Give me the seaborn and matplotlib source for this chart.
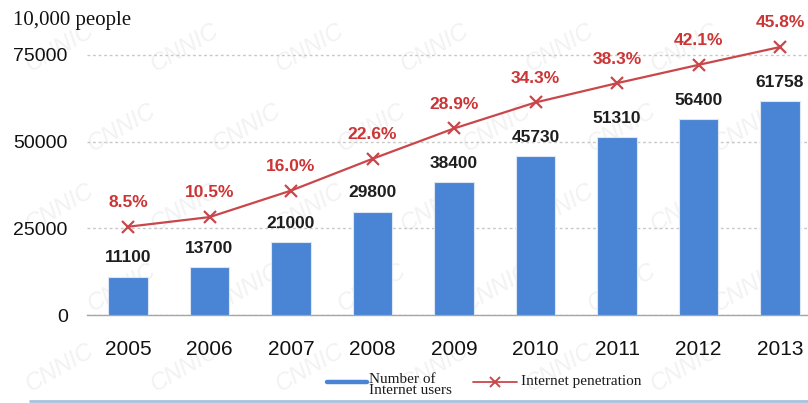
import numpy as np
import pandas as pd
import matplotlib
matplotlib.use("Agg")
import matplotlib.pyplot as plt
from matplotlib.lines import Line2D
import seaborn as sns

# Internet users in China (unit: 10,000 people) and internet penetration rate
years = ["2005", "2006", "2007", "2008", "2009", "2010", "2011", "2012", "2013"]
users = [11100, 13700, 21000, 29800, 38400, 45730, 51310, 56400, 61758]
penetration = [8.5, 10.5, 16.0, 22.6, 28.9, 34.3, 38.3, 42.1, 45.8]
y_ticks = [0, 25000, 50000, 75000]

BAR_BLUE = "#4a84d4"
LINE_RED = "#c9474a"
TEXT_RED = "#cc3535"
AXIS_GREY = "#a6a6a6"
SERIF = ["Liberation Serif", "DejaVu Serif"]

sns.set_theme(style="white")
plt.rcParams["font.family"] = ["Liberation Sans", "DejaVu Sans"]

W, H = 808, 403
fig = plt.figure(figsize=(W / 100, H / 100), dpi=100)
fig.patch.set_facecolor("white")


def fx(px):
    return px / W


def fy(py):
    return 1 - py / H


# faint background watermark, kept clear of the figure edges
for row, wy in enumerate(range(48, 370, 80)):
    shift = 62 if row % 2 else 0
    for wx in range(60 + shift, 765, 125):
        fig.text(fx(wx), fy(wy), "CNNIC", rotation=30, fontsize=17,
                 fontstyle="italic", color="#f2f2f2",
                 ha="center", va="center", zorder=-5)

# main axes (the last category runs slightly past the right edge)
left, right, top, bottom = 87.25, 820.75, 20.2, 315
ax = fig.add_axes([fx(left), fy(bottom), (right - left) / W, (bottom - top) / H])
ax.patch.set_alpha(0)

df = pd.DataFrame({"year": years, "users": users, "penetration": penetration})
sns.barplot(data=df, x="year", y="users", color=BAR_BLUE, saturation=1,
            width=0.48, edgecolor="#dce6f4", linewidth=0.8, zorder=3, ax=ax)

ax.set_xlim(-0.5, len(years) - 0.5)
ax.set_ylim(0, 85000)
ax.set_yticks(y_ticks)
ax.set_yticklabels([str(t) for t in y_ticks])
ax.set_xlabel("")
ax.set_ylabel("")
ax.yaxis.grid(True, linestyle=(0, (2, 2)), color="#c8c8c8", linewidth=1)
ax.set_axisbelow(True)
for side in ("left", "right", "top"):
    ax.spines[side].set_visible(False)
ax.spines["bottom"].set_color(AXIS_GREY)
ax.spines["bottom"].set_linewidth(1)
ax.set_xticks(np.arange(-0.5, len(years), 1), minor=True)
ax.tick_params(axis="x", which="major", length=0, pad=18, labelsize=15,
               labelcolor="#111111")
ax.tick_params(axis="x", which="minor", direction="in", length=5,
               width=1, color=AXIS_GREY)
ax.tick_params(axis="y", length=0, pad=14, labelsize=14, labelcolor="#111111")

for i, v in enumerate(users):
    ax.annotate(f"{v}", (i, v), xytext=(0, 13.5), textcoords="offset points",
                ha="center", va="center", fontsize=12.5, fontweight="bold",
                color="#1e1e1e", zorder=5)

# penetration line on a hidden secondary scale
ax2 = ax.twinx()
sns.lineplot(x=np.arange(len(years)), y=penetration, ax=ax2, color=LINE_RED,
             linewidth=1.6, marker="x", markersize=8, markeredgewidth=1.6,
             markeredgecolor=LINE_RED)
ax2.set_ylim(-9.82, 51.37)
ax2.set_xlim(-0.5, len(years) - 0.5)
ax2.set_axis_off()
for i, p in enumerate(penetration):
    ax2.annotate(f"{p:.1f}%", (i, p), xytext=(0, 17.4), textcoords="offset points",
                 ha="center", va="center", fontsize=12.5, fontweight="bold",
                 color=TEXT_RED)

# unit label
fig.text(fx(13), fy(20), "10,000 people", family=SERIF, fontsize=15,
         ha="left", va="center", color="#111111")

# legend
ly = fy(382)
fig.add_artist(Line2D([fx(327), fx(367)], [ly, ly], color=BAR_BLUE,
                      linewidth=3.2, transform=fig.transFigure))
fig.text(fx(369), fy(373), "Number of\nInternet users", family=SERIF,
         fontsize=11, ha="left", va="top", linespacing=0.85, color="#1a1a1a")
fig.add_artist(Line2D([fx(473), fx(517)], [ly, ly], color=LINE_RED,
                      linewidth=1.3, transform=fig.transFigure))
fig.add_artist(Line2D([fx(495)], [ly], color=LINE_RED, marker="x",
                      markersize=7, markeredgewidth=1.4, linestyle="none",
                      transform=fig.transFigure))
fig.text(fx(521), ly, "Internet penetration", family=SERIF, fontsize=11,
         ha="left", va="center", color="#1a1a1a")

# thin frame line along the bottom
fig.add_artist(Line2D([fx(30), 1.0], [fy(400.5), fy(400.5)], color="#a9c1df",
                      linewidth=2, transform=fig.transFigure))

fig.savefig("out.png", dpi=100)
